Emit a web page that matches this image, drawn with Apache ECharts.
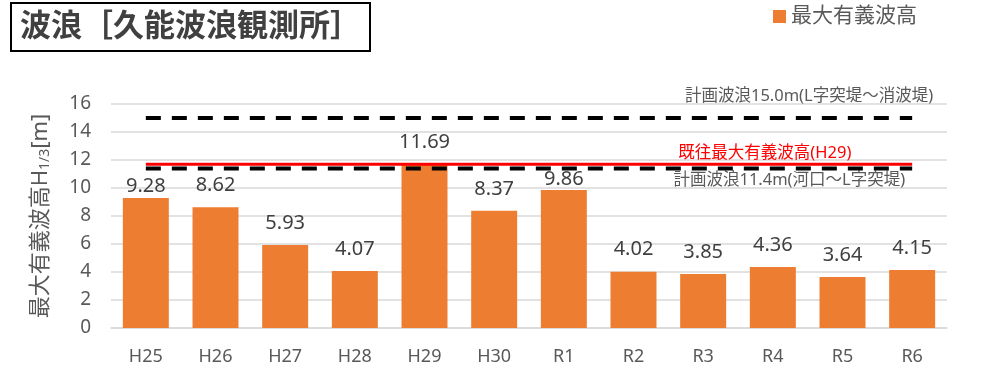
<!DOCTYPE html>
<html>
<head>
<meta charset="utf-8">
<script src="https://cdn.jsdelivr.net/npm/echarts@6/dist/echarts.min.js"></script>
<style>
  html, body { margin: 0; padding: 0; background: #fff; }
  #chart { width: 983px; height: 382px; }
</style>
</head>
<body>
<div id="chart"></div>
<script>
// Yearly maximum significant wave height at the Kunou observation station
const categories = ['H25', 'H26', 'H27', 'H28', 'H29', 'H30', 'R1', 'R2', 'R3', 'R4', 'R5', 'R6'];
const maxWaveHeight = [9.28, 8.62, 5.93, 4.07, 11.69, 8.37, 9.86, 4.02, 3.85, 4.36, 3.64, 4.15];
const yTicks = { min: 0, max: 16, interval: 2 };

// Reference levels
const designWaveSeawall = 15.0;   // L字突堤～消波堤
const designWaveRiver = 11.4;     // 河口～L字突堤
const recordMax = 11.69;          // H29

const FONT = '"Noto Sans", "Noto Sans CJK JP", sans-serif';
const GRAY = '#595959';

// Labels sitting close to a reference line are nudged closer to their bar
const labelDistance = { 'H25': 2, 'R1': 1 };

const chart = echarts.init(document.getElementById('chart'), null, { renderer: 'canvas' });

function levelLine(level) {
  return [[categories[0], level], [categories[categories.length - 1], level]];
}

const option = {
  animation: false,
  textStyle: { fontFamily: FONT },
  title: {
    text: '波浪［久能波浪観測所］',
    left: 11,
    top: 3,
    padding: [8, 9, 8, 9],
    borderColor: '#000',
    borderWidth: 2,
    textStyle: { fontFamily: FONT, fontSize: 31, fontWeight: 'bold', color: '#404040', lineHeight: 32 }
  },
  legend: {
    data: ['最大有義波高'],
    left: 768,
    top: 1,
    icon: 'rect',
    itemWidth: 13,
    itemHeight: 13,
    itemGap: 6,
    textStyle: { fontFamily: FONT, fontSize: 21, color: GRAY }
  },
  grid: { left: 111, right: 36, top: 104, bottom: 54 },
  xAxis: {
    type: 'category',
    data: categories,
    axisTick: { show: false },
    axisLine: { lineStyle: { color: '#d9d9d9', width: 1.5 } },
    axisLabel: { color: GRAY, fontSize: 18, margin: 20, fontFamily: FONT }
  },
  yAxis: {
    type: 'value',
    min: yTicks.min,
    max: yTicks.max,
    interval: yTicks.interval,
    name: '{a|最大有義波高H}{s|1/3}{a|[m]}',
    nameLocation: 'middle',
    nameRotate: 90,
    nameGap: 59,
    nameTextStyle: {
      rich: {
        a: { fontSize: 22, color: GRAY, fontFamily: FONT, verticalAlign: 'bottom' },
        s: { fontSize: 14, color: GRAY, fontFamily: FONT, verticalAlign: 'bottom' }
      }
    },
    axisLine: { show: false },
    axisTick: { show: false },
    axisLabel: { color: GRAY, fontSize: 19, margin: 20, fontFamily: FONT },
    splitLine: { lineStyle: { color: '#d9d9d9', width: 1.5 } }
  },
  series: [
    {
      name: '最大有義波高',
      type: 'bar',
      barWidth: '66%',
      itemStyle: { color: '#ed7d31' },
      data: maxWaveHeight.map((v, i) => ({
        value: v,
        label: labelDistance[categories[i]] != null ? { distance: labelDistance[categories[i]] } : undefined
      })),
      label: {
        show: true,
        position: 'top',
        distance: 12,
        color: '#404040',
        fontSize: 20,
        fontFamily: FONT,
        formatter: p => p.value.toFixed(2)
      }
    },
    {
      name: '計画波浪15.0m',
      type: 'line',
      data: levelLine(designWaveSeawall),
      showSymbol: false,
      silent: true,
      lineStyle: { color: '#000', width: 4, type: [15, 11], cap: 'butt' }
    },
    {
      name: '計画波浪11.4m',
      type: 'line',
      data: levelLine(designWaveRiver),
      showSymbol: false,
      silent: true,
      lineStyle: { color: '#000', width: 4, type: [15, 11], cap: 'butt' }
    },
    {
      name: '既往最大有義波高',
      type: 'line',
      data: levelLine(recordMax),
      showSymbol: false,
      silent: true,
      lineStyle: { color: '#ff0000', width: 3 }
    }
  ]
};

chart.setOption(option);

// Annotations for the reference levels, anchored through the axes
const last = categories.length - 1;
const p15 = chart.convertToPixel({ gridIndex: 0 }, [last, designWaveSeawall]);
const p114 = chart.convertToPixel({ gridIndex: 0 }, [last, designWaveRiver]);
const pRec = chart.convertToPixel({ gridIndex: 0 }, [9, recordMax]);

chart.setOption({
  graphic: [
    {
      type: 'text', x: p15[0] + 21, y: p15[1] - 22,
      style: { text: '計画波浪15.0m(L字突堤～消波堤)', fill: GRAY, font: '16.5px ' + FONT, textAlign: 'right', textVerticalAlign: 'middle' }
    },
    {
      type: 'text', x: pRec[0] - 8, y: pRec[1] - 11,
      style: { text: '既往最大有義波高(H29)', fill: '#ff0000', font: '16.5px ' + FONT, textAlign: 'center', textVerticalAlign: 'middle' }
    },
    {
      type: 'text', x: p114[0] - 7, y: p114[1] + 12,
      style: { text: '計画波浪11.4m(河口～L字突堤)', fill: GRAY, font: '16.5px ' + FONT, textAlign: 'right', textVerticalAlign: 'middle' }
    }
  ]
});
</script>
</body>
</html>
